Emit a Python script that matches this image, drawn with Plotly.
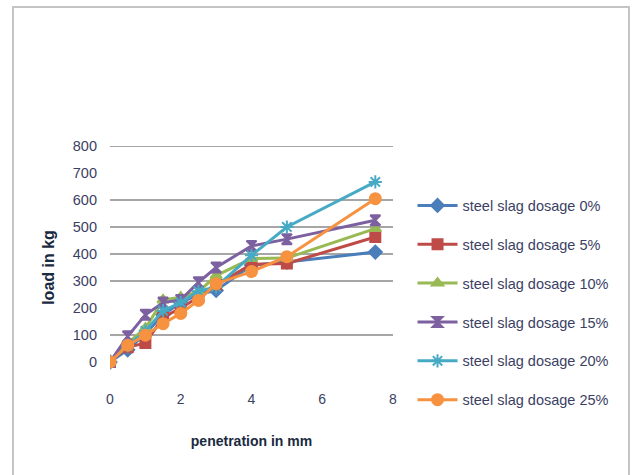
import plotly.graph_objects as go

penetration = [0, 0.5, 1, 1.5, 2, 2.5, 3, 4, 5, 7.5]
load_0 = [0, 45, 105, 175, 220, 250, 265, 358, 370, 407]
load_5 = [0, 55, 70, 165, 200, 240, 285, 362, 365, 463]
load_10 = [0, 70, 125, 230, 240, 260, 320, 383, 385, 494]
load_15 = [0, 95, 175, 220, 230, 295, 350, 430, 455, 525]
load_20 = [0, 60, 115, 190, 220, 262, 278, 395, 500, 667]
load_25 = [0, 62, 99, 142, 180, 228, 290, 335, 390, 605]

names = ["steel slag dosage 0%", "steel slag dosage 5%", "steel slag dosage 10%",
         "steel slag dosage 15%", "steel slag dosage 20%", "steel slag dosage 25%"]
series = [load_0, load_5, load_10, load_15, load_20, load_25]
colors = ["#4A7EBB", "#BE4B48", "#98B954", "#7D60A0", "#46AAC5", "#F69240"]
symbols = ["diamond", "square", "triangle-up", "hourglass", "asterisk-open", "circle"]
sizes = [10, 10, 10, 10, 11, 11]

grid_values = [100, 300, 400, 500, 600, 800]
y_ticks = [0, 100, 200, 300, 400, 500, 600, 700, 800]
x_ticks = [0, 2, 4, 6, 8]

font_family = "Liberation Sans, Arial"
text_color = "#3b3f63"
title_color = "#1a2a40"

fig = go.Figure()
for i, (nm, ys) in enumerate(zip(names, series)):
    fig.add_trace(go.Scatter(
        x=penetration, y=ys, name=nm, mode="lines+markers",
        legendgroup=f"g{i}",
        line=dict(color=colors[i], width=3),
        marker=dict(symbol=symbols[i], size=sizes[i], color=colors[i],
                    line=dict(color=colors[i], width=2)),
    ))

for g in grid_values:
    fig.add_shape(type="line", xref="paper", x0=0, x1=1, yref="y", y0=g, y1=g,
                  line=dict(color="#a6a6a6", width=2), layer="below")

# outer chart frame
fig.add_shape(type="rect", xref="paper", yref="paper",
              x0=(13 - 110) / 283, x1=(629 - 110) / 283,
              y0=-0.5, y1=(389 - 7) / 243,
              line=dict(color="#c4c4c4", width=2), layer="below")

fig.update_layout(
    width=632, height=475,
    margin=dict(l=110, r=239, t=146, b=86),
    paper_bgcolor="white", plot_bgcolor="white",
    font=dict(family=font_family, size=14, color=text_color),
    showlegend=True,
    legend=dict(x=1.069, xanchor="left", y=0.354, yanchor="middle",
                traceorder="grouped", tracegroupgap=17,
                font=dict(size=14.5, color=text_color), itemwidth=40,
                bgcolor="rgba(0,0,0,0)"),
    xaxis=dict(range=[0, 8], tickvals=x_ticks, showgrid=False, zeroline=False,
               showline=False, ticks="", tickfont=dict(size=14, color=text_color),
               title=dict(text="<b>penetration in mm</b>",
                          font=dict(size=14, color=title_color), standoff=30)),
    yaxis=dict(range=[-100, 800], tickvals=y_ticks, showgrid=False, zeroline=False,
               showline=False, ticks="", tickfont=dict(size=14.5, color=text_color),
               ticklabelstandoff=12,
               title=dict(text="<b>load in kg</b>",
                          font=dict(size=16, color=title_color), standoff=14)),
)

fig.write_html("out.html")
